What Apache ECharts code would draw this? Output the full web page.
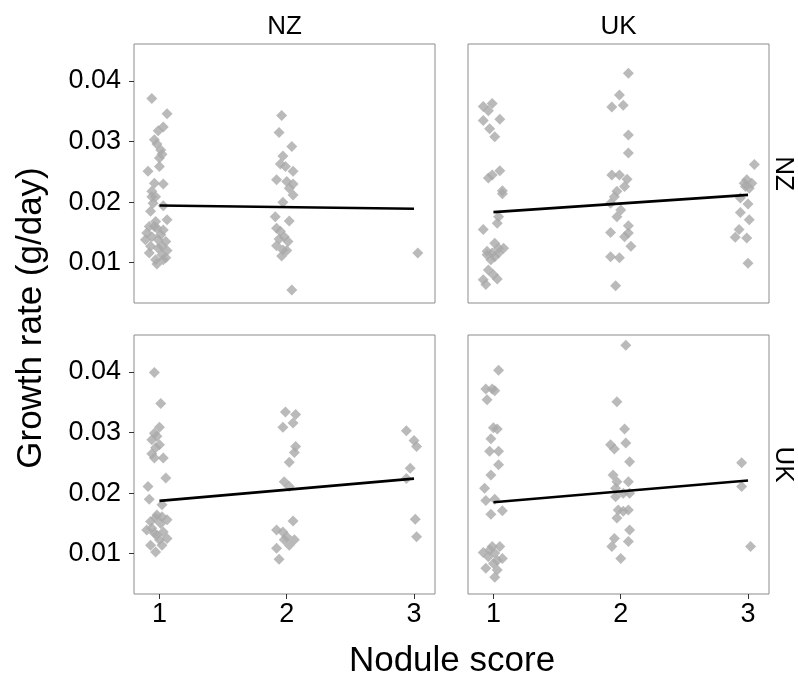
<!DOCTYPE html>
<html>
<head>
<meta charset="utf-8">
<script src="https://cdn.jsdelivr.net/npm/echarts@6/dist/echarts.min.js"></script>
<style>
  html, body { margin: 0; padding: 0; background: #fff; }
  #chart { width: 798px; height: 680px; }
</style>
</head>
<body>
<div id="chart"></div>
<script>
// 面板标签
var colLabels = ['NZ', 'UK']
var rowLabels = ['NZ', 'UK']
var xTicks = [1, 2, 3]
var yTicks = [0.01, 0.02, 0.03, 0.04]

// 散点 (jittered nodule score, growth rate) —— 行 NZ / 列 NZ
var ptsNzNz = [
  [0.94, 0.0371], [1.06, 0.0346], [1.03, 0.0324], [0.99, 0.0318], [0.96, 0.0303],
  [0.98, 0.0296], [1.01, 0.0286], [1.02, 0.0279], [1.00, 0.0273], [1.00, 0.0259],
  [0.91, 0.0251], [0.96, 0.0231], [1.03, 0.0230], [0.94, 0.0218], [0.97, 0.0209],
  [0.95, 0.0198], [1.03, 0.0194], [0.93, 0.0185], [1.06, 0.0171], [0.97, 0.0168],
  [0.92, 0.0160], [0.98, 0.0157], [1.03, 0.0154], [0.90, 0.0149], [0.94, 0.0143],
  [1.01, 0.0146], [0.89, 0.0138], [1.05, 0.0135], [0.93, 0.0127], [0.99, 0.0124],
  [1.06, 0.0120], [0.92, 0.0116], [1.02, 0.0113], [0.97, 0.0105], [1.03, 0.0105],
  [0.98, 0.0098], [0.96, 0.0160], [0.99, 0.0138], [1.02, 0.0127], [1.05, 0.0108],
  [0.94, 0.0209],
  [1.96, 0.0343], [1.94, 0.0315], [2.04, 0.0292], [1.97, 0.0276], [1.95, 0.0263],
  [1.99, 0.0259], [2.05, 0.0251], [1.92, 0.0237], [2.00, 0.0234], [2.05, 0.0230],
  [2.02, 0.0223], [2.05, 0.0212], [1.97, 0.0200], [1.91, 0.0176], [2.02, 0.0169],
  [1.92, 0.0157], [1.95, 0.0152], [1.98, 0.0143], [1.94, 0.0139], [2.01, 0.0135],
  [1.92, 0.0128], [1.97, 0.0121], [2.00, 0.0120], [1.96, 0.0111], [2.04, 0.0055],
  [3.03, 0.0116]
]
// 行 NZ / 列 UK
var ptsNzUk = [
  [0.92, 0.0358], [0.99, 0.0363], [0.96, 0.0351], [0.92, 0.0335], [1.05, 0.0337],
  [0.97, 0.0321], [1.01, 0.0308], [0.96, 0.0240], [0.99, 0.0245], [1.05, 0.0252],
  [1.07, 0.0219], [1.07, 0.0214], [1.04, 0.0176], [1.03, 0.0165], [0.92, 0.0155],
  [1.01, 0.0132], [0.95, 0.0119], [0.99, 0.0116], [1.04, 0.0124], [1.08, 0.0124],
  [0.98, 0.0105], [1.01, 0.0110], [0.96, 0.0088], [1.00, 0.0080], [1.03, 0.0073],
  [0.92, 0.0072], [0.94, 0.0064], [0.95, 0.0113], [1.04, 0.0116],
  [2.06, 0.0413], [1.99, 0.0377], [1.93, 0.0357], [2.02, 0.0360], [2.06, 0.0311],
  [2.06, 0.0281], [1.93, 0.0245], [1.99, 0.0245], [2.05, 0.0238], [2.03, 0.0226],
  [1.97, 0.0218], [1.95, 0.0209], [1.92, 0.0198], [2.00, 0.0187], [1.97, 0.0176],
  [2.06, 0.0161], [2.06, 0.0149], [2.03, 0.0143], [1.92, 0.0150], [2.08, 0.0127],
  [1.92, 0.0110], [1.99, 0.0108], [1.96, 0.0062],
  [3.05, 0.0262], [2.99, 0.0237], [2.97, 0.0231], [3.03, 0.0231], [2.98, 0.0226],
  [3.01, 0.0223], [2.94, 0.0207], [3.00, 0.0197], [2.94, 0.0183], [3.01, 0.0171],
  [2.93, 0.0155], [2.90, 0.0142], [2.99, 0.0141], [3.00, 0.0099]
]
// 行 UK / 列 NZ
var ptsUkNz = [
  [0.96, 0.0399], [1.01, 0.0348], [1.00, 0.0309], [0.96, 0.0299], [0.98, 0.0294],
  [0.94, 0.0288], [1.00, 0.0280], [0.97, 0.0275], [0.94, 0.0265], [1.03, 0.0258],
  [0.96, 0.0258], [1.05, 0.0225], [0.91, 0.0211], [0.92, 0.0190], [1.02, 0.0181],
  [0.98, 0.0164], [1.06, 0.0156], [0.93, 0.0153], [1.01, 0.0150], [0.90, 0.0139],
  [0.96, 0.0134], [1.03, 0.0136], [1.06, 0.0125], [1.00, 0.0123], [0.93, 0.0114],
  [1.02, 0.0114], [0.97, 0.0103], [0.97, 0.0159], [1.02, 0.0161], [0.94, 0.0142],
  [0.98, 0.0131],
  [1.99, 0.0334], [2.07, 0.0330], [2.05, 0.0316], [1.97, 0.0309], [2.07, 0.0277],
  [2.06, 0.0267], [2.02, 0.0251], [1.98, 0.0219], [2.02, 0.0211], [2.05, 0.0154],
  [1.92, 0.0139], [1.97, 0.0136], [2.00, 0.0128], [1.98, 0.0123], [2.02, 0.0114],
  [2.06, 0.0123], [1.92, 0.0109], [1.94, 0.0091],
  [2.94, 0.0303], [3.00, 0.0287], [3.02, 0.0277], [2.97, 0.0241], [2.94, 0.0224],
  [3.01, 0.0157], [3.02, 0.0128]
]
// 行 UK / 列 UK
var ptsUkUk = [
  [1.04, 0.0403], [0.94, 0.0372], [0.99, 0.0372], [1.01, 0.0369], [0.95, 0.0354],
  [1.00, 0.0308], [1.03, 0.0306], [0.98, 0.0290], [0.97, 0.0269], [1.04, 0.0269],
  [1.04, 0.0247], [0.98, 0.0230], [0.93, 0.0208], [0.94, 0.0188], [1.01, 0.0190],
  [1.07, 0.0171], [0.98, 0.0165], [0.92, 0.0102], [0.99, 0.0112], [1.05, 0.0112],
  [1.01, 0.0101], [0.96, 0.0095], [1.07, 0.0092], [0.94, 0.0076], [1.00, 0.0084],
  [1.03, 0.0073], [1.01, 0.0061], [0.97, 0.0106], [1.03, 0.0089],
  [2.04, 0.0444], [1.97, 0.0351], [2.03, 0.0306], [2.04, 0.0283], [1.92, 0.0280],
  [1.95, 0.0273], [2.07, 0.0252], [1.94, 0.0230], [1.97, 0.0219], [2.06, 0.0219],
  [1.96, 0.0208], [2.02, 0.0200], [2.07, 0.0200], [1.96, 0.0194], [1.98, 0.0172],
  [2.02, 0.0170], [2.06, 0.0172], [1.97, 0.0159], [2.07, 0.0139], [1.95, 0.0125],
  [2.06, 0.0120], [1.93, 0.0112], [2.00, 0.0092],
  [2.95, 0.0250], [2.95, 0.0211], [3.02, 0.0112]
]
// 拟合直线 (x = 1 .. 3)
var fitNzNz = [[1, 0.01944], [3, 0.01890]]
var fitNzUk = [[1, 0.01835], [3, 0.02120]]
var fitUkNz = [[1, 0.01873], [3, 0.02240]]
var fitUkUk = [[1, 0.01850], [3, 0.02210]]

var panels = [
  { pts: ptsNzNz, fit: fitNzNz, left: 134, top: 44, showX: false, showY: true },
  { pts: ptsNzUk, fit: fitNzUk, left: 468, top: 44, showX: false, showY: false },
  { pts: ptsUkNz, fit: fitUkNz, left: 134, top: 335, showX: true, showY: true },
  { pts: ptsUkUk, fit: fitUkUk, left: 468, top: 335, showX: true, showY: false }
]
var panelW = 301
var panelH = 259
var font = 'Liberation Sans, Arial, sans-serif'

var chart = echarts.init(document.getElementById('chart'))
var option = {
  backgroundColor: '#fff',
  animation: false,
  grid: [],
  xAxis: [],
  yAxis: [],
  series: [],
  graphic: []
}
panels.forEach(function (p, i) {
  option.grid.push({
    left: p.left,
    top: p.top,
    width: panelW,
    height: panelH,
    show: true,
    backgroundColor: '#fff',
    borderColor: '#8c8c8c',
    borderWidth: 1
  })
  option.xAxis.push({
    type: 'value',
    gridIndex: i,
    min: 0.8,
    max: 3.165,
    axisLine: { show: false },
    splitLine: { show: false },
    axisTick: {
      show: p.showX,
      length: 5,
      customValues: xTicks,
      lineStyle: { color: '#333', width: 1 }
    },
    axisLabel: {
      show: p.showX,
      customValues: xTicks,
      margin: 7,
      color: '#000',
      fontSize: 27,
      fontFamily: font
    }
  })
  option.yAxis.push({
    type: 'value',
    gridIndex: i,
    min: 0.00335,
    max: 0.04611,
    axisLine: { show: false },
    splitLine: { show: false },
    axisTick: {
      show: p.showY,
      length: 5,
      customValues: yTicks,
      lineStyle: { color: '#333', width: 1 }
    },
    axisLabel: {
      show: p.showY,
      customValues: yTicks,
      margin: 13,
      color: '#000',
      fontSize: 27,
      fontFamily: font,
      formatter: function (v) { return v.toFixed(2) }
    }
  })
  option.series.push({
    type: 'scatter',
    xAxisIndex: i,
    yAxisIndex: i,
    symbol: 'diamond',
    symbolSize: 11,
    itemStyle: { color: '#a9a9a9' },
    data: p.pts
  })
  option.series.push({
    type: 'line',
    xAxisIndex: i,
    yAxisIndex: i,
    symbol: 'none',
    lineStyle: { color: '#000', width: 2.6 },
    z: 3,
    data: p.fit
  })
})

// 分面标签与坐标轴标题
var textStyle = function (txt, size) {
  return { text: txt, font: size + 'px ' + font, fill: '#000', textAlign: 'center', textVerticalAlign: 'middle' }
}
option.graphic = [
  { type: 'text', x: 134 + panelW / 2, y: 27, style: textStyle(colLabels[0], 26) },
  { type: 'text', x: 468 + panelW / 2, y: 27, style: textStyle(colLabels[1], 26) },
  { type: 'text', x: 783, y: 44 + panelH / 2, rotation: -Math.PI / 2, style: textStyle(rowLabels[0], 26) },
  { type: 'text', x: 783, y: 335 + panelH / 2, rotation: -Math.PI / 2, style: textStyle(rowLabels[1], 26) },
  { type: 'text', x: 452, y: 661, style: textStyle('Nodule score', 35) },
  { type: 'text', x: 31, y: 318, rotation: Math.PI / 2, style: textStyle('Growth rate (g/day)', 35) }
]

chart.setOption(option)
window.addEventListener('resize', function () {
  chart.resize()
})
</script>
</body>
</html>
